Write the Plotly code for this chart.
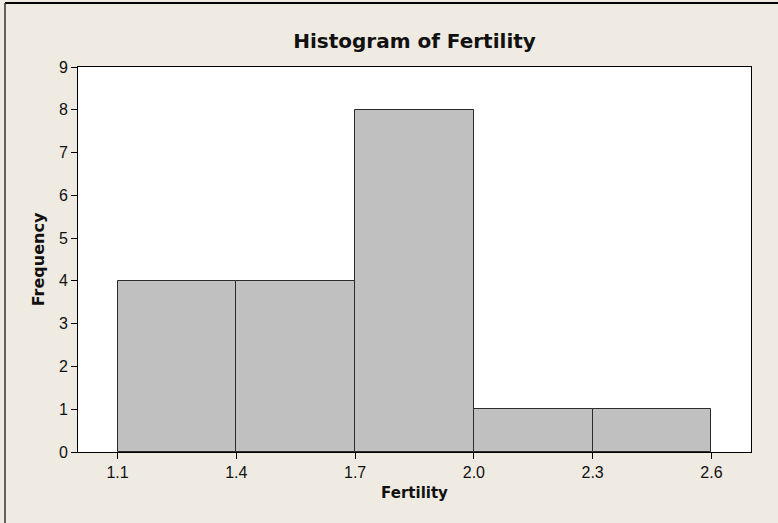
import plotly.graph_objects as go

bin_edges = [1.1, 1.4, 1.7, 2.0, 2.3, 2.6]
frequency = [4, 4, 8, 1, 1]
x_ticks = [1.1, 1.4, 1.7, 2.0, 2.3, 2.6]
x_tick_labels = ["1.1", "1.4", "1.7", "2.0", "2.3", "2.6"]
y_ticks = list(range(0, 10))

centers = [(a + b) / 2 for a, b in zip(bin_edges[:-1], bin_edges[1:])]
widths = [b - a for a, b in zip(bin_edges[:-1], bin_edges[1:])]

W, H = 778, 523
L, R, T, B = 78, 27, 67, 71
pw, ph = W - L - R, H - T - B

fig = go.Figure(go.Bar(
    x=centers, y=frequency, width=widths,
    marker=dict(color="#C0C0C0", line=dict(color="#2b2b2b", width=1)),
    hoverinfo="x+y",
))

font = "DejaVu Sans"
tick_font = dict(family="Liberation Sans", size=16, color="#111111")
fig.update_layout(
    width=W, height=H,
    margin=dict(l=L, r=R, t=T, b=B),
    paper_bgcolor="#EFEBE2",
    plot_bgcolor="white",
    showlegend=False,
    font=dict(family=font, size=14, color="#111111"),
    title=dict(text="<b>Histogram of Fertility</b>", x=(L + pw / 2) / W, xanchor="center",
               y=1 - 41 / H, yanchor="middle", font=dict(size=20, family=font)),
    xaxis=dict(range=[1.0, 2.7], tickvals=x_ticks, ticktext=x_tick_labels,
               ticks="outside", ticklen=6, tickcolor="black", showgrid=False, zeroline=False,
               tickfont=tick_font,
               showline=True, linecolor="black", linewidth=1, mirror=True,
               title=dict(text="<b>Fertility</b>", font=dict(size=15), standoff=7)),
    yaxis=dict(range=[0, 9], tickvals=y_ticks, ticks="outside", ticklen=6, tickcolor="black",
               showgrid=False, zeroline=False, tickfont=tick_font,
               showline=True, linecolor="black", linewidth=1, mirror=True,
               title=dict(text="<b>Frequency</b>", font=dict(size=16), standoff=10)),
    bargap=0,
)

# outer frame lines (left and top)
fig.add_shape(type="line", xref="paper", yref="paper",
              x0=(5 - L) / pw, x1=(W + 5 - L) / pw, y0=1 + (T - 3) / ph, y1=1 + (T - 3) / ph,
              line=dict(color="black", width=2))
fig.add_shape(type="line", xref="paper", yref="paper",
              x0=(5 - L) / pw, x1=(5 - L) / pw, y0=-(B + 5) / ph, y1=1 + (T - 3) / ph,
              line=dict(color="#333333", width=1.5))

fig.write_html("out.html", post_script="document.body.style.margin='0';",
               config={"displayModeBar": False})
